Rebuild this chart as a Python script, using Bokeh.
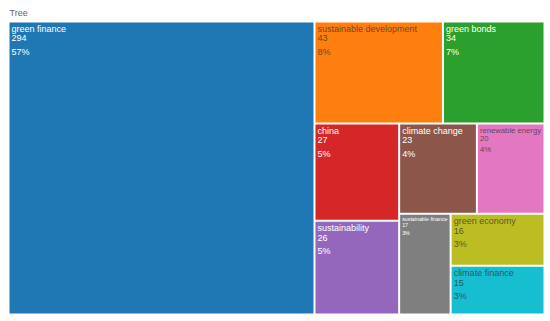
from bokeh.plotting import figure
from bokeh.models import Range1d, ColumnDataSource, Label
from bokeh.core.properties import value
from bokeh.palettes import Category10_10
from bokeh.embed import file_html
from bokeh.resources import INLINE

# ---- data ----
names = ["green finance", "sustainable development", "green bonds", "china",
         "sustainability", "climate change", "renewable energy",
         "sustainable finance", "green economy", "climate finance"]
counts = [294, 43, 34, 27, 26, 23, 20, 17, 16, 15]
title_text = "Tree"

# ---- styles ----
colors = list(Category10_10)
label_sizes = [9, 9, 9, 9, 9, 9, 7.7, 5.3, 9, 9]
FONT = "Liberation Sans"

# ---- squarified treemap layout ----
def worst(row, length):
    s = sum(row)
    t = s / length
    return max(max(t / (r / t), (r / t) / t) for r in row)

def squarify(sizes, x, y, w, h):
    rects = []
    sizes = list(sizes)
    while sizes:
        if len(sizes) == 1:
            rects.append((x, y, w, h))
            break
        L = min(w, h)
        row = [sizes[0]]
        i = 1
        while i < len(sizes) and worst(row + [sizes[i]], L) <= worst(row, L):
            row.append(sizes[i])
            i += 1
        t = sum(row) / L
        if w >= h:
            yy = y
            for r in row:
                hh = r / t
                rects.append((x, yy, t, hh))
                yy += hh
            x += t
            w -= t
        else:
            xx = x
            for r in row:
                ww = r / t
                rects.append((xx, y, ww, t))
                xx += ww
            y += t
            h -= t
        sizes = sizes[i:]
    return rects

W, H = 546, 316
AX0, AY0, AX1, AY1 = 8, 21, 544, 314
total = sum(counts)
area = (AX1 - AX0) * (AY1 - AY0)
scaled = [c * area / total for c in counts]
rects = squarify(scaled, AX0, AY0, AX1 - AX0, AY1 - AY0)

gap = 1.0
left = [r[0] + gap for r in rects]
right = [r[0] + r[2] - gap for r in rects]
top = [r[1] + gap for r in rects]
bottom = [r[1] + r[3] - gap for r in rects]

def lum(hexc):
    hexc = hexc.lstrip("#")
    r, g, b = int(hexc[0:2], 16), int(hexc[2:4], 16), int(hexc[4:6], 16)
    return 0.299 * r + 0.587 * g + 0.114 * b

p = figure(width=W, height=H, x_range=Range1d(0, W), y_range=Range1d(H, 0),
           output_backend="svg", toolbar_location=None, min_border=0)
p.axis.visible = False
p.grid.visible = False
p.outline_line_color = None
p.min_border_left = p.min_border_right = p.min_border_top = p.min_border_bottom = 0

p.quad(source=ColumnDataSource(dict(left=left, right=right, top=top, bottom=bottom, color=colors)),
       left="left", right="right", top="top", bottom="bottom",
       fill_color="color", line_color=None)

tx, ty, tt, tsz, tcol, talpha = [], [], [], [], [], []
for i, (n, c) in enumerate(zip(names, counts)):
    fs = label_sizes[i]
    light = lum(colors[i]) > 135
    lines = [n, str(c), f"{round(c / total * 100)}%"]
    for k, s in enumerate(lines):
        tx.append(left[i] + 2)
        ty.append(top[i] + 1.5 + k * fs * 1.25)
        tt.append(s)
        tsz.append(f"{fs}px")
        tcol.append("#333333" if light else "#ffffff")
        talpha.append(0.75 if light else 1.0)

p.text(source=ColumnDataSource(dict(x=tx, y=ty, text=tt, size=tsz, color=tcol, alpha=talpha)),
       x="x", y="y", text="text", text_font_size="size", text_color="color",
       text_alpha="alpha", text_baseline="top", text_align="left",
       text_font=value(FONT))

p.add_layout(Label(x=9, y=12.5, text=title_text, text_font_size="9px", text_color="#666666",
                   text_baseline="middle", text_font=FONT))

open("out.html", "w").write(file_html(p, INLINE))
